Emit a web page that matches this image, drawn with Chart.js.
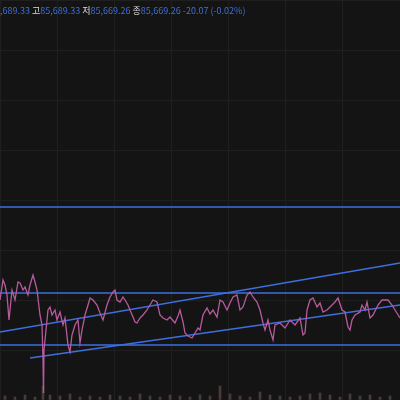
<!DOCTYPE html>
<html>
<head>
<meta charset="utf-8">
<script src="https://cdn.jsdelivr.net/npm/chart.js@4.4.0/dist/chart.umd.min.js"></script>
<style>
  body { margin: 0; background: #141414; }
  #wrap { position: relative; width: 400px; height: 400px; }
  #info { position: absolute; left: 0; top: 4px; font: 9px "Noto Sans CJK KR", sans-serif; color: #3d6fd8; white-space: nowrap; }
  #info b { color: #ddd; font-weight: normal; }
</style>
</head>
<body>
<div id="wrap">
  <canvas id="myChart" width="400" height="400"></canvas>
  <div id="info">,689.33 <b>고</b>85,689.33 <b>저</b>85,669.26 <b>종</b>85,669.26 -20.07 (-0.02%)</div>
</div>
<script>
    // 가격 (x 위치, 높이)
    var priceX = [0,3,5,7,9,12,15,18,20,23,25,28,30,33,35,37,40,42,43,43.5,44,46,48,50,52,55,57,60,63,65,68,70,72,75,78,80,82,85,88,90,93,97,100,103,107,110,113,115,117,120,123,125,128,130,133,135,137,140,143,147,150,153,157,160,163,167,170,175,178,180,183,185,188,192,195,198,
        200,203,207,210,213,217,220,223,227,230,233,237,240,243,247,250,253,257,260,263,265,268,270,273,275,280,285,290,295,300,303,305,307,310,313,317,320,323,327,330,335,338,342,345,348,350,352,355,360,362,365,367,370,373,378,382,388,392,395,400];
    var priceY = [300,280,285,295,320,290,300,282,283,290,287,295,285,275,282,290,315,325,360,393,350,330,310,307,315,310,320,312,325,318,345,352,335,325,320,343,330,315,305,298,300,305,313,320,305,297,292,290,300,302,297,300,305,310,317,322,323,318,315,310,305,300,302,315,318,320,317,323,316,310,322,333,336,338,333,328,
        330,315,308,314,310,317,300,302,310,303,297,295,310,307,295,292,297,302,310,323,330,320,330,340,325,323,328,320,325,318,335,333,310,300,298,307,303,312,310,307,302,298,310,312,327,330,320,315,312,305,310,302,318,315,305,300,300,305,310,318];
    // 거래량
    var volX = [5,15,25,35,43,50,60,70,80,90,100,110,120,130,140,150,160,170,180,190,200,210,220,230,240,250,260,270,280,290,300,310,320,330,340,350,360,370,380,390];
    var volH = [4,3,5,3,14,5,4,6,3,4,3,5,4,3,6,4,3,5,4,3,5,4,14,6,4,3,8,5,4,3,4,6,7,5,3,6,4,5,3,4];
    // 추세선
    var lines = [
        [[0,207],[400,207]],
        [[0,293],[400,293]],
        [[0,345],[400,345]],
        [[0,332],[400,263]],
        [[30,358],[400,305]]
    ];

    function flip(xs, ys) { return xs.map(function (x, i) { return { x: x, y: 400 - ys[i] }; }); }

    var datasets = [{
        type: 'line',
        data: flip(priceX, priceY),
        borderColor: '#b85a9e',
        borderWidth: 1.3,
        pointRadius: 0,
        tension: 0
    }];
    lines.forEach(function (l) {
        datasets.push({
            type: 'line',
            data: l.map(function (p) { return { x: p[0], y: 400 - p[1] }; }),
            borderColor: '#3d6fe0',
            borderWidth: 1.3,
            pointRadius: 0
        });
    });
    datasets.push({
        type: 'bar',
        data: volX.map(function (x, i) { return { x: x, y: volH[i] }; }),
        backgroundColor: '#4a3a3a',
        barThickness: 2
    });

    var ctx = document.getElementById("myChart").getContext('2d');
    var myChart = new Chart(ctx, {
        data: { datasets: datasets },
        options: {
            responsive: false,
            animation: false,
            layout: { padding: 0 },
            plugins: { legend: { display: false }, tooltip: { enabled: false } },
            scales: {
                x: { type: 'linear', offset: false, min: 0, max: 400, ticks: { display: false, stepSize: 57 }, grid: { color: '#1f1f1f', offset: false, drawTicks: false }, border: { display: false } },
                y: { min: 0, max: 400, ticks: { display: false, stepSize: 50 }, grid: { color: '#1f1f1f', drawTicks: false }, border: { display: false } }
            }
        }
    });
</script>
</body>
</html>
